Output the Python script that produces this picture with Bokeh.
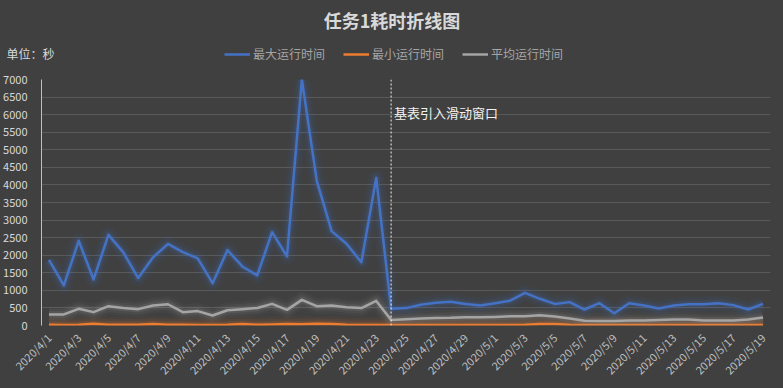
import math
from bokeh.plotting import figure
from bokeh.layouts import column
from bokeh.models import (ColumnDataSource, Range1d, FixedTicker, Legend, LegendItem,
                          Span, Label)
from bokeh.embed import file_html
from bokeh.resources import INLINE

# ---- data ----
dates = ["2020/4/%d" % d for d in range(1, 31)] + ["2020/5/%d" % d for d in range(1, 20)]

max_time = [1870, 1140, 2410, 1310, 2580, 2080, 1350, 1940, 2320, 2090, 1910, 1205, 2145, 1680, 1425,
            2655, 1965, 7000, 4125, 2685, 2325, 1800, 4200, 475, 495, 590, 645, 675, 610, 570,
            635, 705, 930, 760, 615, 665, 455, 635, 350, 635, 570, 485, 570, 605, 605, 635,
            580, 455, 615]
min_time = [20, 15, 20, 50, 20, 20, 20, 45, 20, 20, 15, 15, 20, 45, 20,
            30, 45, 35, 50, 45, 20, 15, 15, 15, 15, 15, 15, 15, 15, 15,
            15, 15, 20, 45, 45, 20, 15, 15, 15, 15, 15, 15, 15, 15, 15, 15,
            15, 15, 15]
avg_time = [315, 315, 475, 380, 550, 495, 465, 570, 605, 380, 410, 285, 435, 465, 500,
            615, 445, 730, 550, 570, 520, 495, 700, 160, 180, 200, 215, 220, 235, 235,
            245, 260, 265, 295, 255, 200, 135, 125, 125, 140, 140, 160, 170, 170, 140, 140,
            140, 170, 230]

series_names = ["最大运行时间", "最小运行时间", "平均运行时间"]
series_colors = ["#4472C4", "#ED7D31", "#A5A5A5"]
y_ticks = list(range(0, 7001, 500))
title_text = "任务1耗时折线图"
unit_text = "单位：秒"
event_index = 23
event_text = "基表引入滑动窗口"

idx = list(range(len(dates)))
src = ColumnDataSource(dict(x=idx, mx=max_time, mn=min_time, av=avg_time))

BG = "#404040"
FONT = "Noto Sans CJK SC"
W = 783
HEAD_H = 69

# ---- header: title, unit, legend ----
head = figure(width=W, height=HEAD_H, output_backend="svg", toolbar_location=None,
              x_range=Range1d(0, W), y_range=Range1d(0, HEAD_H),
              x_axis_type=None, y_axis_type=None,
              background_fill_color=BG, border_fill_color=BG, outline_line_color=None,
              min_border=0)
head.frame_align = False
head.grid.visible = False

head.add_layout(Label(x=W / 2, y=HEAD_H - 19, text=title_text, text_color="#d9d9d9",
                      text_font=FONT, text_font_size="18px", text_font_style="bold",
                      text_align="center", text_baseline="middle"))
head.add_layout(Label(x=6, y=HEAD_H - 53, text=unit_text, text_color="#d9d9d9",
                      text_font=FONT, text_font_size="12px", text_baseline="middle"))

# legend samples (kept outside the visible header range)
dummy = []
for color in series_colors:
    dummy.append(head.line(x=[-50, -40], y=[-50, -50], line_color=color, line_width=2.5))
legend = Legend(items=[LegendItem(label=n, renderers=[r]) for n, r in zip(series_names, dummy)],
                orientation="horizontal", location=(224, HEAD_H - 53 - 9),
                background_fill_alpha=0, border_line_alpha=0,
                label_text_color="#a6a6a6", label_text_font=FONT, label_text_font_size="12px",
                glyph_width=26, glyph_height=14, label_standoff=3, spacing=18,
                padding=0, margin=0)
head.add_layout(legend, "center")

# ---- main chart ----
p = figure(width=W, height=388 - HEAD_H, output_backend="svg", toolbar_location=None,
           x_range=Range1d(-0.5, len(dates) - 0.5), y_range=Range1d(0, 7000),
           background_fill_color=BG, border_fill_color=BG, outline_line_color=None,
           min_border_left=41, min_border_right=13, min_border_bottom=63, min_border_top=10)
p.frame_align = False

for col, color in zip(["mx", "mn", "av"], series_colors):
    for w, a in [(16, 0.05), (11, 0.08), (6.5, 0.14)]:
        p.line("x", col, source=src, line_color=color, line_width=w, line_alpha=a,
               line_join="round")
    p.line("x", col, source=src, line_color=color, line_width=2.5, line_join="round")

p.yaxis.ticker = FixedTicker(ticks=y_ticks)
p.yaxis.axis_line_color = "#bfbfbf"
p.yaxis.major_tick_line_color = None
p.yaxis.minor_tick_line_color = None
p.yaxis.major_label_text_color = "#d9d9d9"
p.yaxis.major_label_text_font = FONT
p.yaxis.major_label_text_font_size = "11px"
p.yaxis.major_label_standoff = 8

p.xaxis.ticker = FixedTicker(ticks=idx[::2])
p.xaxis.major_label_overrides = {i: dates[i] for i in idx}
p.xaxis.major_label_orientation = math.pi / 4
p.xaxis.axis_line_color = None
p.xaxis.major_tick_line_color = None
p.xaxis.minor_tick_line_color = None
p.xaxis.major_label_text_color = "#bfbfbf"
p.xaxis.major_label_text_font = FONT
p.xaxis.major_label_text_font_size = "11px"
p.xaxis.major_label_standoff = 4

p.xgrid.grid_line_color = None
p.ygrid.ticker = FixedTicker(ticks=y_ticks)
p.ygrid.grid_line_color = "#595959"
p.ygrid.grid_line_width = 1

p.add_layout(Span(location=event_index, dimension="height", line_color="#f2f2f2",
                  line_dash="2 2", line_width=1))
p.add_layout(Label(x=event_index, y=6060, text=event_text, x_offset=3,
                   text_color="#f2f2f2", text_font=FONT, text_font_size="13px",
                   text_baseline="middle"))

layout = column(head, p, spacing=0)
layout.styles = {"background-color": BG}
html = file_html(layout, INLINE)
html = html.replace("</head>", "<style>html, body { background: #404040 !important; }</style></head>", 1)
open("out.html", "w").write(html)
